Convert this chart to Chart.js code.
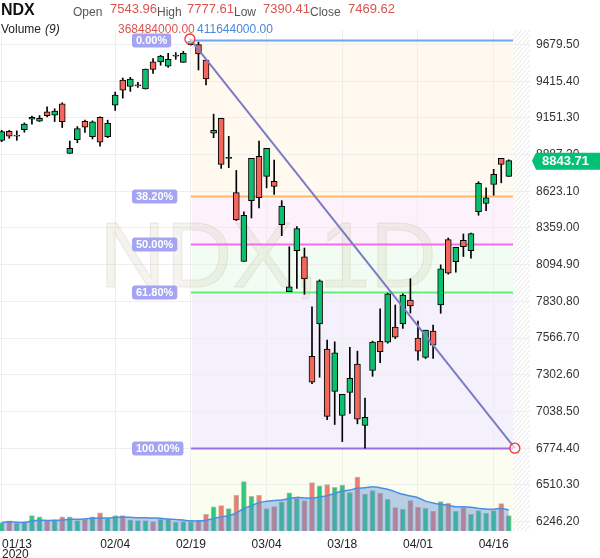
<!DOCTYPE html>
<html>
<head>
<meta charset="utf-8">
<script src="https://cdn.jsdelivr.net/npm/chart.js@4"></script>
<style>
  html, body { margin: 0; padding: 0; background: #fff; }
  canvas { display: block; }
</style>
</head>
<body>
<canvas id="c" width="600" height="558"></canvas>
<script>
// daily candles, 01/13 .. 04/20 (index = trading day)
const opens  = [8990,9055,9024,9067,9142,9127,9195,9171,9253,8896,8995,9127,9017,9156,9017,9243,9424,9378,9386,9359,
                9554,9554,9523,9600,9551,9679,9679,9568,9041,9149,8863,8614,8118,8556,8874,8730,8694,8383,7901,8195,
                8152,7436,7668,7487,7183,7010,7176,7379,6938,7335,7543.96,7538,7646,7668,7841,7567,7427,7617,7805,8275,
                8116,8270,8195,8477,8535,8672,8860,8730];
const highs  = [9062,9062,9058,9115,9164,9168,9231,9217,9260,8985,9089,9135,9130,9159,9135,9337,9438,9443,9407,9503,
                9578,9602,9616,9621,9631,9712,9696,9568,9178,9149,9019,8773,8475,8860,8985,8932,8848,8556,8224,8369,
                8215,7791,7986,7552,7540,7162,7501,7473,7135,7545,7777.61,7890,7805,7885,7993,7689,7624,7660,8094,8287,
                8219,8316,8323,8692,8648,8781,8860,8850];
const lows   = [8980,9005,8990,9048,9106,9125,9159,9125,9082,8896,8973,9046,9000,8947,9009,9205,9294,9342,9371,9359,
                9472,9530,9515,9573,9551,9674,9496,9388,9009,8788,8793,8412,8118,8431,8503,8648,8600,8304,7901,7925,
                7882,7239,7285,6979,6945,6822,7025,6950,6774.4,7292,7390.41,7530,7564,7636,7747,7408,7420,7420,7745,8027,
                8041,8154,8142,8451,8484,8595,8684,8730];
const closes = [9053,9019,9026,9106,9156,9149,9168,9200,9125,8932,9074,9084,9123,8976,9113,9315,9351,9431,9390,9503,
                9501,9597,9573,9603,9616,9703,9612,9431,9062,8817,8867,8417,8450,8860,8578,8932,8658,8516,7935,8354,
                7993,7249,7978,7003,7461,7162,7277,6984,6996,7538,7469.62,7885,7574,7877,7798,7473,7624,7516,8065,8034,
                8219,8224,8318,8680,8576,8745,8817,8843.71];
// volume in millions
const volumes = [82,98,75,82,150,137,98,108,137,137,101,114,137,176,124,150,150,108,101,101,
                 91,114,114,85,91,91,101,163,235,248,218,349,482,339,349,218,238,284,372,319,
                 297,473,440,453,427,447,375,525,359,394,368.5,310,228,212,297,231,222,192,287,271,
                 192,228,163,199,173,199,267,150];

const dateTicks  = [0, 15, 25, 35, 45, 55, 65];
const dateLabels = ["01/13", "02/04", "02/19", "03/04", "03/18", "04/01", "04/16"];
const priceTicks = [9679.50, 9415.40, 9151.30, 8887.20, 8623.10, 8359.00, 8094.90, 7830.80,
                    7566.70, 7302.60, 7038.50, 6774.40, 6510.30, 6246.20];

const fibHigh = 9712, fibLow = 6774.4;
const fibStart = 25, fibEnd = 67.8;
const fibLevels = [0, 0.382, 0.5, 0.618, 1];
const fibColors = ["#6ea6f0", "#ffb866", "#f06ee8", "#66ee77", "#9c6ee8"];
const fibFills  = ["#fff9f0", "#fdf1fc", "#f1fdf3", "#f4f1fd", "#fafdf0"];

const UP = "#0bbf6e", DOWN = "#f2665c";

const idx = opens.map(function (_, i) { return i; });
const isUp = idx.map(function (i) { return closes[i] >= opens[i]; });

// 9-day volume moving average
const volMA = idx.map(function (i) {
  const s = Math.max(0, i - 8);
  const w = volumes.slice(s, i + 1);
  return w.reduce(function (a, b) { return a + b; }, 0) / w.length;
});

const FONT = "'Liberation Sans', Arial, sans-serif";

const overlay = {
  id: "overlay",
  beforeDraw: function (chart) {
    const c = chart.ctx, a = chart.chartArea, x = chart.scales.x, y = chart.scales.y;
    const x0 = x.getPixelForValue(fibStart) + 1, x1 = a.right - 17;
    c.save();
    // fib bands
    for (let k = 0; k < fibLevels.length; k++) {
      const top = y.getPixelForValue(fibHigh - fibLevels[k] * (fibHigh - fibLow));
      const bot = k < fibLevels.length - 1 ? y.getPixelForValue(fibHigh - fibLevels[k + 1] * (fibHigh - fibLow)) : a.bottom;
      c.fillStyle = fibFills[k];
      c.fillRect(x0, top, x1 - x0, bot - top);
    }
    // hatched future area
    c.beginPath(); c.rect(x1, a.top, a.right - x1, a.bottom - a.top); c.clip();
    c.strokeStyle = "#e6e6e6"; c.lineWidth = 1;
    for (let t = a.top - 40; t < a.bottom + 40; t += 5) {
      c.beginPath(); c.moveTo(x1, t + 20); c.lineTo(a.right, t); c.stroke();
    }
    c.restore();
  },
  beforeDatasetsDraw: function (chart) {
    const c = chart.ctx, x = chart.scales.x, y = chart.scales.y, a = chart.chartArea;
    const x0 = x.getPixelForValue(fibStart), x1 = a.right - 17;
    c.save();
    c.font = "92px " + FONT;
    c.textAlign = "center"; c.textBaseline = "middle";
    c.fillStyle = "rgba(205,200,175,0.22)";
    c.strokeStyle = "rgba(190,185,160,0.25)";
    c.fillText("NDX,1D", 268, 262);
    c.strokeText("NDX,1D", 268, 262);
    for (let k = 0; k < fibLevels.length; k++) {
      const py = Math.round(y.getPixelForValue(fibHigh - fibLevels[k] * (fibHigh - fibLow))) + 0.5;
      c.strokeStyle = fibColors[k]; c.lineWidth = 2;
      c.beginPath(); c.moveTo(x0, py); c.lineTo(x1, py); c.stroke();
      const txt = (fibLevels[k] * 100).toFixed(2) + "%";
      c.font = "bold 11px " + FONT;
      const w = c.measureText(txt).width + 8;
      c.fillStyle = "#a4a4f4";
      c.beginPath(); c.roundRect(132, py - 7, w, 14, 3); c.fill();
      c.fillStyle = "#fff"; c.textAlign = "center";
      c.fillText(txt, 132 + w / 2, py + 0.5);
    }
    c.restore();
  },
  afterDatasetsDraw: function (chart) {
    const c = chart.ctx, a = chart.chartArea, x = chart.scales.x, y = chart.scales.y;
    const p0 = [x.getPixelForValue(fibStart) - 1, y.getPixelForValue(fibHigh) - 1];
    const p1 = [x.getPixelForValue(fibEnd), y.getPixelForValue(fibLow)];
    c.save();
    c.strokeStyle = "#7c7cc4"; c.lineWidth = 2;
    c.beginPath(); c.moveTo(p0[0], p0[1]); c.lineTo(p1[0], p1[1]); c.stroke();
    c.strokeStyle = "#ee3333"; c.lineWidth = 1.3;
    [p0, p1].forEach(function (p) {
      c.fillStyle = "rgba(255,255,255,0.6)";
      c.beginPath(); c.arc(p[0], p[1], 5, 0, Math.PI * 2); c.fill(); c.stroke();
    });
    // last price tag
    const last = closes[closes.length - 1];
    const ly = y.getPixelForValue(last);
    c.fillStyle = "#00c176";
    c.beginPath();
    c.moveTo(a.right + 2, ly);
    c.lineTo(a.right + 6, ly - 8);
    c.lineTo(600, ly - 8); c.lineTo(600, ly + 9);
    c.lineTo(a.right + 6, ly + 9);
    c.closePath(); c.fill();
    c.fillStyle = "#fff"; c.font = "bold 13px " + FONT;
    c.textAlign = "left"; c.textBaseline = "middle";
    c.fillText(last.toFixed(2), a.right + 12, ly + 1);
    // date labels
    c.fillStyle = "#222"; c.font = "12px " + FONT;
    c.textBaseline = "alphabetic";
    dateTicks.forEach(function (t, k) {
      let px = x.getPixelForValue(t);
      if (k === 0) { c.textAlign = "left"; px = 2; } else { c.textAlign = "center"; }
      c.fillText(dateLabels[k], px, 548);
    });
    c.textAlign = "left";
    c.fillText("2020", 2, 558);
    // header
    c.font = "bold 16px " + FONT; c.fillStyle = "#111";
    c.fillText("NDX", 1, 15);
    const hdr = [["Open", 73, 0], ["7543.96", 110, 1], ["High", 157, 0], ["7777.61", 187, 1],
                 ["Low", 234, 0], ["7390.41", 263, 1], ["Close", 310, 0], ["7469.62", 348, 1]];
    hdr.forEach(function (h) {
      c.fillStyle = h[2] ? "#d9534f" : "#555";
      c.font = (h[2] ? "13px " : "12px ") + FONT;
      c.fillText(h[0], h[1], h[2] ? 13 : 16);
    });
    c.font = "12px " + FONT; c.fillStyle = "#222";
    c.fillText("Volume ", 1, 33);
    c.font = "italic 12px " + FONT;
    c.fillText("(9)", 45, 33);
    c.font = "12px " + FONT;
    c.fillStyle = "#d9534f"; c.fillText("368484000.00", 118, 33);
    c.fillStyle = "#4a86d8"; c.fillText("411644000.00", 197, 33);
    c.restore();
  }
};

new Chart(document.getElementById("c"), {
  type: "bar",
  data: {
    datasets: [
      {
        type: "bar", yAxisID: "y",
        data: idx.map(function (i) {
          const o = opens[i], cl = closes[i];
          return { x: i, y: Math.abs(o - cl) < 8 ? [o - 4, o + 4] : [o, cl] };
        }),
        backgroundColor: idx.map(function (i) { return isUp[i] ? UP : DOWN; }),
        borderColor: "#000", borderWidth: 1, borderSkipped: false,
        barThickness: 6, grouped: false, order: 1
      },
      {
        type: "bar", yAxisID: "y",
        data: idx.map(function (i) { return { x: i, y: [lows[i], highs[i]] }; }),
        backgroundColor: "#000", barThickness: 1, grouped: false, order: 2
      },
      {
        type: "line", yAxisID: "vol",
        data: idx.map(function (i) { return { x: i, y: volMA[i] }; }),
        borderColor: "#4a90e2", borderWidth: 1.5, backgroundColor: "rgba(90,140,215,0.42)",
        fill: "origin", pointRadius: 0, tension: 0.4, order: 3
      },
      {
        type: "bar", yAxisID: "vol",
        data: idx.map(function (i) { return { x: i, y: volumes[i] }; }),
        backgroundColor: idx.map(function (i) { return isUp[i] ? "rgba(20,200,110,0.9)" : "rgba(242,110,95,0.9)"; }),
        borderColor: "rgba(170,170,160,0.8)", borderWidth: 1,
        barThickness: 5, grouped: false, order: 4
      }
    ]
  },
  options: {
    responsive: false,
    animation: false,
    layout: { padding: { top: 30, left: 0, right: 0, bottom: 0 } },
    plugins: { legend: { display: false }, tooltip: { enabled: false } },
    scales: {
      x: {
        type: "linear", min: -0.22, max: 69.8, offset: false,
        afterBuildTicks: function (s) { s.ticks = dateTicks.map(function (v) { return { value: v }; }); },
        afterFit: function (s) { s.height = 27; },
        ticks: { display: false },
        grid: { color: "#eeeeee", drawTicks: false, offset: false },
        border: { display: false }
      },
      y: {
        position: "right", min: 6178.6, max: 9783.8,
        afterBuildTicks: function (s) { s.ticks = priceTicks.map(function (v) { return { value: v }; }); },
        afterFit: function (s) { s.width = 70; },
        ticks: {
          color: "#333", padding: 6,
          font: { family: FONT, size: 12 },
          callback: function (v) { return Number(v).toFixed(2); }
        },
        grid: { color: "#eeeeee", drawTicks: false },
        border: { display: false }
      },
      vol: { display: false, min: 0, max: 4885 }
    }
  },
  plugins: [overlay]
});
</script>
</body>
</html>
